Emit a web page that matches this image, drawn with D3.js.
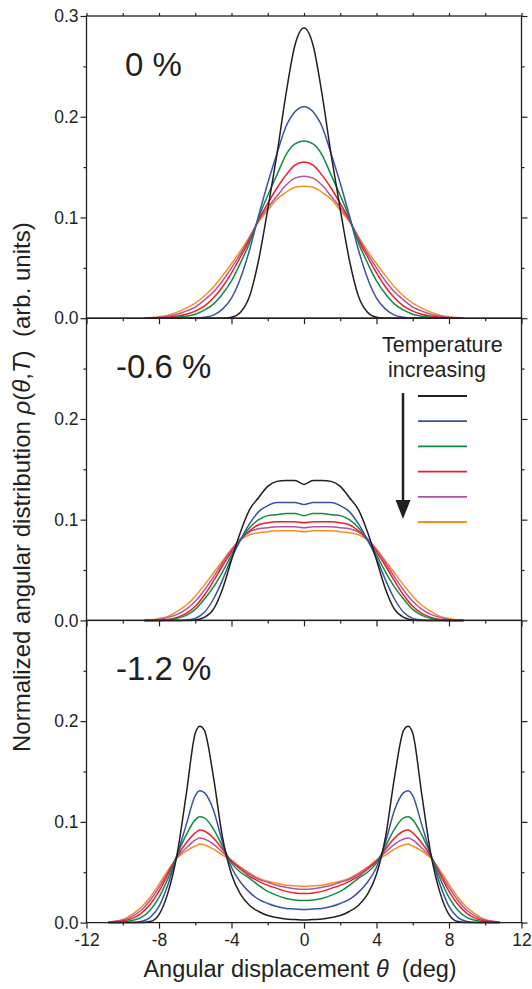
<!DOCTYPE html>
<html>
<head>
<meta charset="utf-8">
<script src="https://cdn.jsdelivr.net/npm/d3@7"></script>
<style>
  body { margin: 0; background: #fff; }
  svg { display: block; font-family: "Liberation Sans", Arial, sans-serif; }
  .tick text { fill: #231f20; }
</style>
</head>
<body>
<div class="chart-container"></div>
<script>
// angular displacement grid (deg)
const thetaAB = [-8.8,-8.5,-8,-7.5,-7,-6.5,-6,-5.5,-5,-4.5,-4,-3.5,-3,-2.5,-2,-1.5,-1,-0.5,0,
                 0.5,1,1.5,2,2.5,3,3.5,4,4.5,5,5.5,6,6.5,7,7.5,8,8.5,8.8];
const thetaC = [-10.8,-10.5,-10,-9.5,-9,-8.5,-8,-7.5,-7,-6.5,-6,-5.75,-5.5,-5,-4.5,-4,-3.5,-3,-2.5,-2,-1.5,-1,-0.5,0,
                0.5,1,1.5,2,2.5,3,3.5,4,4.5,5,5.5,5.75,6,6.5,7,7.5,8,8.5,9,9.5,10,10.5,10.8];

// strain 0 %
const a1 = [0,0,0,0,0,0,0,0,0,0,0.001,0.006,0.022,0.058,0.108,0.162,0.222,0.271,0.288,
            0.271,0.222,0.162,0.108,0.058,0.022,0.006,0.001,0,0,0,0,0,0,0,0,0,0];
const a2 = [0,0,0,0,0,0,0,0.001,0.003,0.009,0.020,0.040,0.068,0.102,0.134,0.163,0.190,0.205,0.210,
            0.205,0.190,0.163,0.134,0.102,0.068,0.040,0.020,0.009,0.003,0.001,0,0,0,0,0,0,0];
const a3 = [0,0,0,0,0.001,0.002,0.004,0.008,0.014,0.024,0.037,0.055,0.075,0.100,0.122,0.142,0.162,0.173,0.176,
            0.173,0.162,0.142,0.122,0.100,0.075,0.055,0.037,0.024,0.014,0.008,0.004,0.002,0.001,0,0,0,0];
const a4 = [0,0,0,0.001,0.002,0.004,0.007,0.012,0.020,0.031,0.045,0.061,0.078,0.098,0.114,0.129,0.142,0.152,0.155,
            0.152,0.142,0.129,0.114,0.098,0.078,0.061,0.045,0.031,0.020,0.012,0.007,0.004,0.002,0.001,0,0,0];
const a5 = [0,0,0.001,0.002,0.004,0.007,0.011,0.018,0.026,0.037,0.050,0.064,0.080,0.097,0.110,0.121,0.132,0.139,0.141,
            0.139,0.132,0.121,0.110,0.097,0.080,0.064,0.050,0.037,0.026,0.018,0.011,0.007,0.004,0.002,0.001,0,0];
const a6 = [0,0.0005,0.0015,0.003,0.006,0.010,0.015,0.022,0.031,0.042,0.054,0.067,0.081,0.096,0.107,0.118,0.125,0.130,0.131,
            0.130,0.125,0.118,0.107,0.096,0.081,0.067,0.054,0.042,0.031,0.022,0.015,0.010,0.006,0.003,0.0015,0.0005,0];

// strain -0.6 %
const b1 = [0,0,0,0,0,0,0.0005,0.003,0.011,0.031,0.060,0.088,0.110,0.122,0.133,0.138,0.139,0.139,0.135,
            0.139,0.139,0.138,0.133,0.122,0.110,0.088,0.060,0.031,0.011,0.003,0.0005,0,0,0,0,0,0];
const b2 = [0,0,0,0,0,0.0005,0.002,0.008,0.021,0.040,0.062,0.080,0.096,0.108,0.114,0.117,0.117,0.117,0.115,
            0.117,0.117,0.117,0.114,0.108,0.096,0.080,0.062,0.040,0.021,0.008,0.002,0.0005,0,0,0,0,0];
const b3 = [0,0,0,0.0005,0.002,0.005,0.011,0.021,0.033,0.048,0.065,0.080,0.092,0.100,0.104,0.105,0.106,0.106,0.104,
            0.106,0.106,0.105,0.104,0.100,0.092,0.080,0.065,0.048,0.033,0.021,0.011,0.005,0.002,0.0005,0,0,0];
const b4 = [0,0,0,0.001,0.003,0.007,0.014,0.025,0.039,0.054,0.068,0.080,0.089,0.095,0.097,0.098,0.098,0.098,0.097,
            0.098,0.098,0.098,0.097,0.095,0.089,0.080,0.068,0.054,0.039,0.025,0.014,0.007,0.003,0.001,0,0,0];
const b5 = [0,0,0.001,0.003,0.006,0.011,0.019,0.030,0.043,0.057,0.070,0.081,0.088,0.091,0.092,0.093,0.093,0.093,0.092,
            0.093,0.093,0.093,0.092,0.091,0.088,0.081,0.070,0.057,0.043,0.030,0.019,0.011,0.006,0.003,0.001,0,0];
const b6 = [0,0.0005,0.002,0.004,0.009,0.015,0.024,0.035,0.047,0.059,0.071,0.080,0.085,0.087,0.088,0.089,0.089,0.089,0.088,
            0.089,0.089,0.089,0.088,0.087,0.085,0.080,0.071,0.059,0.047,0.035,0.024,0.015,0.009,0.004,0.002,0.0005,0];

// strain -1.2 %
const c1 = [0,0,0,0,0,0.001,0.008,0.030,0.068,0.127,0.188,0.195,0.191,0.145,0.085,0.048,0.028,0.017,0.011,0.007,0.005,0.0035,0.003,0.0025,
            0.003,0.0035,0.005,0.007,0.011,0.017,0.028,0.048,0.085,0.145,0.191,0.195,0.188,0.127,0.068,0.030,0.008,0.001,0,0,0,0,0];
const c2 = [0,0,0,0,0.001,0.005,0.016,0.038,0.067,0.097,0.126,0.131,0.129,0.112,0.080,0.055,0.040,0.030,0.023,0.019,0.016,0.014,0.0135,0.013,
            0.0135,0.014,0.016,0.019,0.023,0.030,0.040,0.055,0.080,0.112,0.129,0.131,0.126,0.097,0.067,0.038,0.016,0.005,0.001,0,0,0,0];
const c3 = [0,0,0.0005,0.002,0.005,0.012,0.025,0.044,0.067,0.087,0.102,0.105,0.104,0.093,0.076,0.059,0.050,0.044,0.037,0.031,0.027,0.024,0.0225,0.022,
            0.0225,0.024,0.027,0.031,0.037,0.044,0.050,0.059,0.076,0.093,0.104,0.105,0.102,0.087,0.067,0.044,0.025,0.012,0.005,0.002,0.0005,0,0];
const c4 = [0,0.0005,0.0015,0.004,0.009,0.018,0.031,0.048,0.066,0.079,0.089,0.092,0.091,0.084,0.073,0.061,0.053,0.046,0.041,0.037,0.034,0.031,0.0295,0.029,
            0.0295,0.031,0.034,0.037,0.041,0.046,0.053,0.061,0.073,0.084,0.091,0.092,0.089,0.079,0.066,0.048,0.031,0.018,0.009,0.004,0.0015,0.0005,0];
const c5 = [0,0.001,0.0025,0.006,0.012,0.022,0.035,0.050,0.065,0.074,0.082,0.084,0.083,0.078,0.070,0.0615,0.054,0.048,0.043,0.040,0.037,0.035,0.0335,0.033,
            0.0335,0.035,0.037,0.040,0.043,0.048,0.054,0.0615,0.070,0.078,0.083,0.084,0.082,0.074,0.065,0.050,0.035,0.022,0.012,0.006,0.0025,0.001,0];
const c6 = [0,0.001,0.003,0.008,0.015,0.025,0.038,0.052,0.064,0.071,0.076,0.078,0.077,0.073,0.067,0.062,0.055,0.049,0.044,0.041,0.039,0.037,0.0365,0.036,
            0.0365,0.037,0.039,0.041,0.044,0.049,0.055,0.062,0.067,0.073,0.077,0.078,0.076,0.071,0.064,0.052,0.038,0.025,0.015,0.008,0.003,0.001,0];

const panelLabels = ["0 %", "-0.6 %", "-1.2 %"];
const colors = ["#231f20", "#3953a4", "#0e8c46", "#ee1c25", "#b652a6", "#f7901e"];
const xTicks = [-12, -8, -4, 0, 4, 8, 12];
const xMinor = [-10, -6, -2, 2, 6, 10];
const yMinor = [0.05, 0.15, 0.25];

const panels = [
  {theta: thetaAB, series: [a1, a2, a3, a4, a5, a6], yTicks: [0, 0.1, 0.2, 0.3]},
  {theta: thetaAB, series: [b1, b2, b3, b4, b5, b6], yTicks: [0, 0.1, 0.2]},
  {theta: thetaC,  series: [c1, c2, c3, c4, c5, c6], yTicks: [0, 0.1, 0.2]}
];

// chart dimensions
const width = 532;
const height = 989;
const marginLeft = 86.5;
const marginRight = 10.5;
const marginTop = 16;
const panelH = 302.2;
const ink = "#231f20";

const x = d3.scaleLinear()
    .domain([-12, 12])
    .range([marginLeft, width - marginRight]);

const svg = d3.select('.chart-container').append("svg")
    .attr("width", width)
    .attr("height", height);

function styleAxis(g){
    g.select(".domain").remove();
    g.selectAll(".tick line").attr("stroke", ink).attr("stroke-width", 1.2);
}

panels.forEach((p, i) => {
    const top = marginTop + i * panelH;
    const bottom = top + panelH;
    const y = d3.scaleLinear().domain([0, 0.3]).range([bottom, top]);
    const g = svg.append("g");

    // left axis
    g.append("g")
        .attr("transform", `translate(${marginLeft},0)`)
        .call(d3.axisLeft(y).tickValues(p.yTicks).tickFormat(d3.format(".1f")).tickSize(6).tickPadding(2).tickSizeOuter(0))
        .call(styleAxis)
        .call(a => a.selectAll("text").attr("font-size", 17.5).attr("font-family", "Liberation Sans, Arial, sans-serif"));
    g.append("g")
        .attr("transform", `translate(${marginLeft},0)`)
        .call(d3.axisLeft(y).tickValues(yMinor).tickFormat("").tickSize(3).tickSizeOuter(0))
        .call(styleAxis);

    // right axis
    g.append("g")
        .attr("transform", `translate(${width - marginRight},0)`)
        .call(d3.axisRight(y).tickValues(p.yTicks).tickFormat("").tickSize(6).tickSizeOuter(0))
        .call(styleAxis);
    g.append("g")
        .attr("transform", `translate(${width - marginRight},0)`)
        .call(d3.axisRight(y).tickValues(yMinor).tickFormat("").tickSize(3).tickSizeOuter(0))
        .call(styleAxis);

    // bottom axis
    const xb = g.append("g")
        .attr("transform", `translate(0,${bottom})`)
        .call(d3.axisBottom(x).tickValues(xTicks).tickFormat(i === 2 ? (d => String(d)) : "").tickSize(6).tickPadding(5).tickSizeOuter(0))
        .call(styleAxis);
    xb.selectAll("text").attr("font-size", 17.5).attr("font-family", "Liberation Sans, Arial, sans-serif");
    g.append("g")
        .attr("transform", `translate(0,${bottom})`)
        .call(d3.axisBottom(x).tickValues(xMinor).tickFormat("").tickSize(3).tickSizeOuter(0))
        .call(styleAxis);

    if (i === 0) {
        g.append("g")
            .attr("transform", `translate(0,${top})`)
            .call(d3.axisTop(x).tickValues(xTicks.concat(xMinor)).tickFormat("").tickSize(3).tickSizeOuter(0))
            .call(styleAxis);
    }

    // frame
    g.append("rect")
        .attr("x", marginLeft).attr("y", top)
        .attr("width", width - marginRight - marginLeft).attr("height", panelH)
        .attr("fill", "none").attr("stroke", ink).attr("stroke-width", 1.3);

    // curves
    const line = d3.line()
        .x((d, k) => x(p.theta[k]))
        .y(d => y(d))
        .curve(d3.curveMonotoneX);

    p.series.slice().reverse().forEach((s, k) => {
        g.append("path")
            .datum(s)
            .attr("d", line)
            .attr("fill", "none")
            .attr("stroke", colors[p.series.length - 1 - k])
            .attr("stroke-width", 1.5)
            .attr("stroke-linejoin", "round");
    });

    g.append("text")
        .attr("x", i === 0 ? 125 : 116)
        .attr("y", top + 60)
        .attr("font-size", 33)
        .attr("fill", ink)
        .text(panelLabels[i]);
});

// legend in middle panel
const legTop = 396;
const legStep = 25.2;
svg.append("text").attr("x", 382).attr("y", 352).attr("font-size", 21.5).attr("fill", ink).text("Temperature");
svg.append("text").attr("x", 388).attr("y", 377).attr("font-size", 21.5).attr("fill", ink).text("increasing");
colors.forEach((c, k) => {
    svg.append("line")
        .attr("x1", 418).attr("x2", 467)
        .attr("y1", legTop + k * legStep).attr("y2", legTop + k * legStep)
        .attr("stroke", c).attr("stroke-width", 1.8);
});
svg.append("line")
    .attr("x1", 403).attr("x2", 403).attr("y1", 393).attr("y2", 502)
    .attr("stroke", ink).attr("stroke-width", 2.5);
svg.append("path")
    .attr("d", "M395.5,500 L410.5,500 L403,519 Z")
    .attr("fill", ink);

// axis titles
const xt = svg.append("text")
    .attr("x", 300).attr("y", 977)
    .attr("text-anchor", "middle")
    .attr("font-size", 23.5)
    .attr("fill", ink);
xt.append("tspan").text("Angular displacement ");
xt.append("tspan").attr("font-style", "italic").text("\u03b8");
xt.append("tspan").text("\u00a0 (deg)");

const yt = svg.append("text")
    .attr("transform", "translate(30,752) rotate(-90)")
    .attr("font-size", 24)
    .attr("fill", ink);
yt.append("tspan").text("Normalized angular distribution ");
yt.append("tspan").attr("font-style", "italic").text("\u03c1");
yt.append("tspan").text("(");
yt.append("tspan").attr("font-style", "italic").text("\u03b8");
yt.append("tspan").text(",");
yt.append("tspan").attr("font-style", "italic").text("T");
yt.append("tspan").text(")\u00a0 (arb. units)");
</script>
</body>
</html>
